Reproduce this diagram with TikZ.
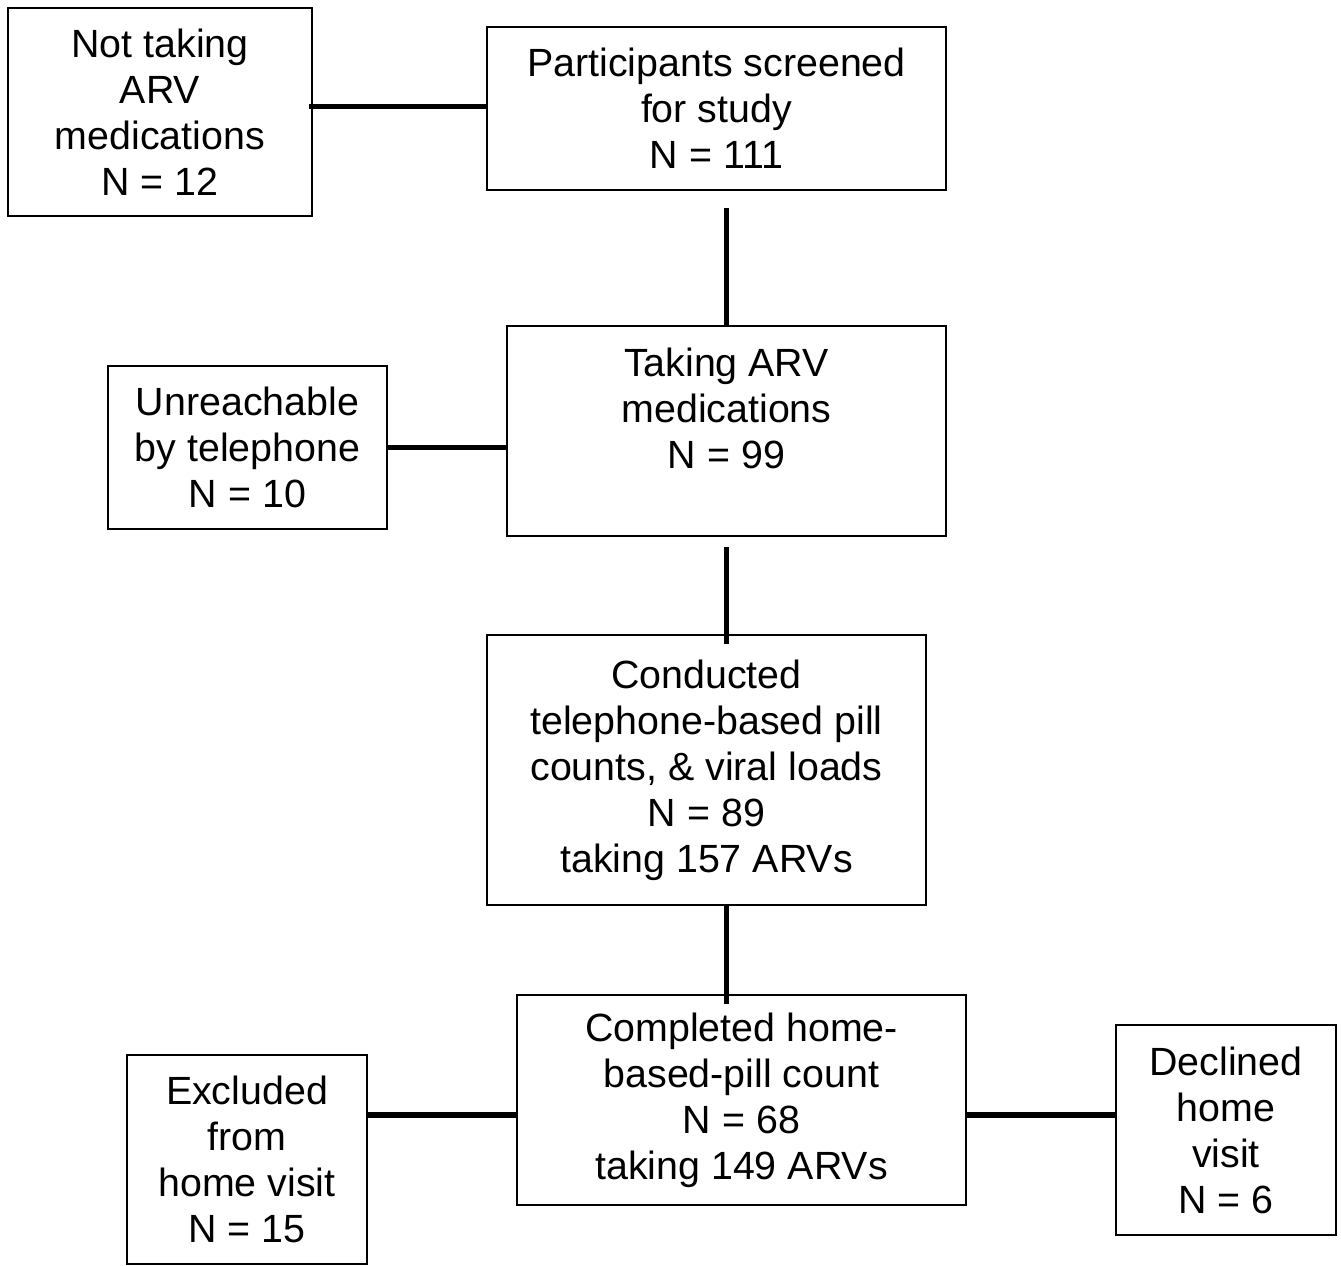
\documentclass[tikz,border=0pt]{standalone}
\usepackage{fontspec}
\setmainfont{Liberation Sans}
\usepackage{tikz}
\usetikzlibrary{positioning}

\begin{document}
\begin{tikzpicture}[
  box/.style={rectangle, draw=black, line width=1.2pt, align=center, inner sep=2pt, font=\fontsize{22.4}{26.2}\selectfont},
  link/.style={line width=3.4pt, black}
]
  \useasboundingbox (0,0) rectangle (26.82,-25.32);

  \node[box, minimum width=6.08cm, minimum height=4.16cm] (nottaking) at (3.2,-2.24) {Not taking\\ARV\\medications\\N = 12};
  \node[box, minimum width=9.18cm, minimum height=3.26cm] (screened) at (14.33,-2.17) {Participants screened\\for study\\N = 111};
  \node[box, minimum width=8.78cm, minimum height=4.2cm] (taking) at (14.53,-8.62) {Taking ARV\\medications\\N = 99\\~};
  \node[box, minimum width=5.58cm, minimum height=3.26cm] (unreach) at (4.95,-8.95) {Unreachable\\by telephone\\N = 10};
  \node[box, minimum width=8.78cm, minimum height=5.4cm] (conducted) at (14.13,-15.4) {Conducted\\telephone-based pill\\counts, \& viral loads\\N = 89\\taking 157 ARVs};
  \node[box, minimum width=8.98cm, minimum height=4.2cm] (completed) at (14.83,-22.0) {Completed home-\\based-pill count\\N = 68\\taking 149 ARVs};
  \node[box, minimum width=4.8cm, minimum height=4.18cm] (excluded) at (4.94,-23.19) {Excluded\\from\\home visit\\N = 15};
  \node[box, minimum width=4.4cm, minimum height=4.2cm] (declined) at (24.52,-22.6) {Declined\\home\\visit\\N = 6};

  \coordinate (jtop) at ([yshift=0.04cm]screened.west);
  \coordinate (jl) at ([yshift=-0.3cm]completed.west);
  \coordinate (jr) at ([yshift=-0.3cm]completed.east);

  \draw[link, shorten <=0.34cm] (taking.north |- screened.south) -- (taking.north);
  \draw[link, shorten <=0.2cm, shorten >=-0.2cm] (taking.south) -- (taking.south |- conducted.north);
  \draw[link, shorten >=-0.2cm] (taking.south |- conducted.south) -- (taking.south |- completed.north);
  \draw[link, shorten >=-0.08cm] (jtop) -- (jtop -| nottaking.east);
  \draw[link] (unreach.east) -- (unreach.east -| taking.west);
  \draw[link] (jl) -- (jl -| excluded.east);
  \draw[link] (jr) -- (jr -| declined.west);
\end{tikzpicture}
\end{document}
